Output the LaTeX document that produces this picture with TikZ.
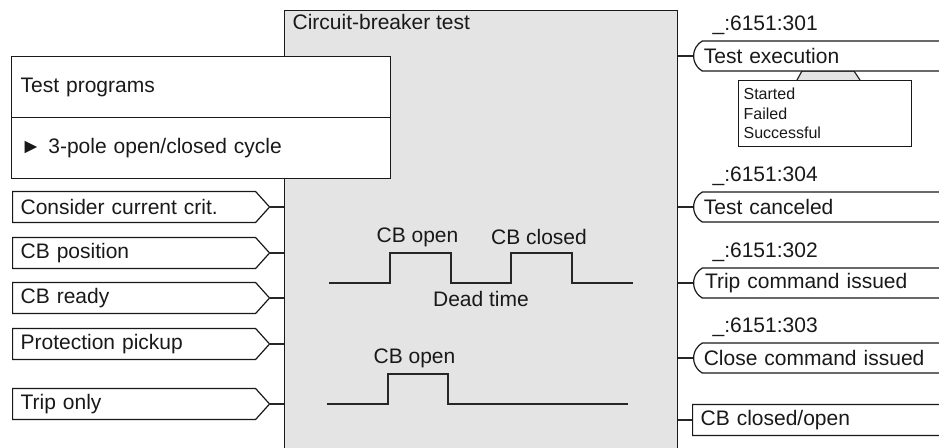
\documentclass[tikz,border=0pt]{standalone}
\usepackage{fontspec}
\setmainfont{Liberation Sans}
\usepackage{tikz}
\usetikzlibrary{shapes.symbols, shapes.misc, positioning}
\definecolor{cbgray}{RGB}{228,228,228}
\tikzstyle{mainbox}  = [draw, fill=cbgray, minimum width=196.5pt, minimum height=225pt, inner sep=0pt, anchor=north west]
\tikzstyle{progbox}  = [draw, fill=white, minimum height=30.5pt, text width=180.5pt, inner xsep=4.5pt, align=left, anchor=north west]
\tikzstyle{inbox}    = [draw, fill=white, signal, signal to=east, signal pointer angle=96, minimum height=15.5pt, text width=113.5pt, inner xsep=4pt, inner ysep=0pt, align=left, anchor=west]
\tikzstyle{outbox}   = [draw, fill=white, rounded rectangle, rounded rectangle arc length=120, minimum height=15pt, text width=122pt, inner xsep=4.2pt, inner ysep=0pt, align=left, anchor=west]
\tikzstyle{outsig}   = [draw, fill=white, signal, signal to=east, signal pointer angle=96, minimum height=15.5pt, text width=122pt, inner xsep=4pt, inner ysep=0pt, align=left, anchor=west]
\tikzstyle{statebox} = [draw, fill=white, minimum height=33pt, text width=81.5pt, inner xsep=2.5pt, align=left, anchor=north west, font=\fontsize{8}{9.75}\selectfont]
\tikzstyle{idlabel}  = [inner sep=0pt]
\tikzstyle{wavetext} = [inner sep=0pt]
\tikzstyle{edge}     = [line width=0.6pt, black!85]
\tikzstyle{wave}     = [line width=0.6pt, black!85]
\begin{document}
\begin{tikzpicture}[x=0.5pt, y=-0.5pt, font=\fontsize{10.5}{12.6}\selectfont, every node/.style={line width=0.6pt}, black!90]

\path[use as bounding box] (0,0) rectangle (939,448);
\clip (0,0) rectangle (939,448);

\node[mainbox] (cb) at (284,10) {};
\node[anchor=west, inner sep=0pt] (title) at (292,22) {Circuit-breaker test};

\node[progbox] (progs) at (11,56) {Test programs};
\node[progbox] (progsel) at (11,117) {► 3-pole open/closed cycle};

\node[inbox] (curcrit) at (12,207) {Consider current crit.};
\node[inbox] (cbpos) at (12,253) {CB position};
\node[inbox] (cbready) at (12,298) {CB ready};
\node[inbox] (protpick) at (12,344) {Protection pickup};
\node[inbox] (triponly) at (12,404) {Trip only};

\draw[edge] (curcrit.east) -- (curcrit.east -| cb.west);
\draw[edge] (cbpos.east) -- (cbpos.east -| cb.west);
\draw[edge] (cbready.east) -- (cbready.east -| cb.west);
\draw[edge] (protpick.east) -- (protpick.east -| cb.west);
\draw[edge] (triponly.east) -- (triponly.east -| cb.west);

\filldraw[edge, fill=cbgray] (797,80) -- (802,71) -- (854,71) -- (860,80);

\node[outbox] (testexec) at (693,56) {Test execution};
\node[statebox] (states) at (738,80) {Started\\Failed\\Successful};
\node[outbox] (testcanc) at (693,207) {Test canceled};
\node[outbox] (tripcmd) at (693,283) {Trip command issued};
\node[outbox] (closecmd) at (693,358) {Close command issued};
\node[outsig] (cbstate) at (692,420) {CB closed/open};

\node[idlabel, above right=10.5pt and 9.5pt of testexec.west] (testexec-id) {\_:6151:301};
\node[idlabel, above right=10.5pt and 9.5pt of testcanc.west] (testcanc-id) {\_:6151:304};
\node[idlabel, above right=10.5pt and 9.5pt of tripcmd.west] (tripcmd-id) {\_:6151:302};
\node[idlabel, above right=10.5pt and 9.5pt of closecmd.west] (closecmd-id) {\_:6151:303};

\draw[edge] (cb.east |- testexec.west) -- (testexec.west);
\draw[edge] (cb.east |- testcanc.west) -- (testcanc.west);
\draw[edge] (cb.east |- tripcmd.west) -- (tripcmd.west);
\draw[edge] (cb.east |- closecmd.west) -- (closecmd.west);
\draw[edge] (cb.east |- cbstate.west) -- (cbstate.west);

\draw[wave] (329,283) -| (390,253) -| (451,283) -| (511,253) -| (572,283) -- (633,283);
\node[wavetext] (open1) at (417.5,237) {CB open};
\node[wavetext] (closed1) at (539,237) {CB closed};
\node[wavetext] (dead) at (481,299) {Dead time};

\draw[wave] (327,404) -| (388,374) -| (448,404) -- (628,404);
\node[wavetext] (open2) at (414.5,358) {CB open};

\end{tikzpicture}
\end{document}
